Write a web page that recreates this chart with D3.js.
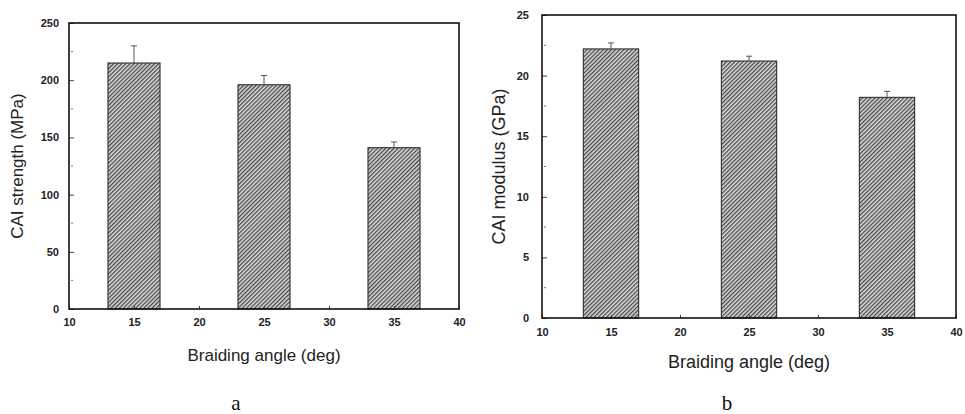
<!DOCTYPE html>
<html>
<head>
<meta charset="utf-8">
<script src="https://cdn.jsdelivr.net/npm/d3@7"></script>
<style>
    body { margin: 0; background: #fff; }
    svg { display: block; }
    .tick text { font-family: "Liberation Sans", Arial, sans-serif; font-weight: bold; fill: #222; }
    .title { font-family: "Liberation Sans", Arial, sans-serif; fill: #222; }
    .panelLabel { font-family: "Liberation Serif", "Times New Roman", serif; fill: #111; }
</style>
</head>
<body>
<div id="chart"></div>
<script>
// chart values
var angles = [15, 25, 35];
var xTicks = [10, 15, 20, 25, 30, 35, 40];

var strengthMean = [215, 196, 141];
var strengthErr = [15, 8, 5];
var strengthTicks = [0, 50, 100, 150, 200, 250];

var modulusMean = [22.2, 21.2, 18.2];
var modulusErr = [0.5, 0.4, 0.5];
var modulusTicks = [0, 5, 10, 15, 20, 25];

function init(){
    var w = 965;
    var h = 414;

    var svg = d3.select("#chart")
                .append("svg")
                .attr("width", w)
                .attr("height", h);

    //hatch pattern for the bars
    var pat = svg.append("defs").append("pattern")
        .attr("id", "hatch")
        .attr("patternUnits", "userSpaceOnUse")
        .attr("width", 2.9)
        .attr("height", 10)
        .attr("patternTransform", "rotate(45)");
    pat.append("rect")
        .attr("width", 2.9).attr("height", 10)
        .attr("fill", "#dedede");
    pat.append("rect")
        .attr("width", 1.3).attr("height", 10)
        .attr("fill", "#444");

    drawPanel(svg, {
        left: 69, right: 459, top: 23, bottom: 309,
        means: strengthMean, errs: strengthErr,
        yTicks: strengthTicks, yMax: 250,
        yTitle: "CAI strength (MPa)", yTitleX: 17,
        xTitleY: 361, tickSize: 11, titleSize: 17,
        labelGap: 5, xLabelY: 322,
        panel: "a", panelX: 236, panelY: 410
    });

    drawPanel(svg, {
        left: 542, right: 956, top: 15, bottom: 318,
        means: modulusMean, errs: modulusErr,
        yTicks: modulusTicks, yMax: 25,
        yTitle: "CAI modulus (GPa)", yTitleX: 499,
        xTitleY: 368, tickSize: 11, titleSize: 18,
        labelGap: 8, xLabelY: 332,
        panel: "b", panelX: 727, panelY: 410
    });
}

function drawPanel(svg, c){
    var xScale = d3.scaleLinear()
                .domain([10, 40])
                .range([c.left, c.right]);
    var yScale = d3.scaleLinear()
                .domain([0, c.yMax])
                .range([c.bottom, c.top]);

    var g = svg.append("g");

    //bars
    g.selectAll("rect.bar")
        .data(angles)
        .enter()
        .append("rect")
        .attr("class", "bar")
        .attr("x", function(d) { return xScale(d - 2); })
        .attr("width", function(d) { return xScale(d + 2) - xScale(d - 2); })
        .attr("y", function(d, i) { return yScale(c.means[i]); })
        .attr("height", function(d, i) { return yScale(0) - yScale(c.means[i]); })
        .attr("fill", "url(#hatch)")
        .attr("stroke", "#3a3a3a")
        .attr("stroke-width", 1.2);

    //error bars (upper only)
    g.selectAll("line.err")
        .data(angles)
        .enter()
        .append("line")
        .attr("x1", function(d) { return xScale(d); })
        .attr("x2", function(d) { return xScale(d); })
        .attr("y1", function(d, i) { return yScale(c.means[i]); })
        .attr("y2", function(d, i) { return yScale(c.means[i] + c.errs[i]); })
        .attr("stroke", "#555")
        .attr("stroke-width", 1);
    g.selectAll("line.cap")
        .data(angles)
        .enter()
        .append("line")
        .attr("x1", function(d) { return xScale(d) - 3; })
        .attr("x2", function(d) { return xScale(d) + 3; })
        .attr("y1", function(d, i) { return yScale(c.means[i] + c.errs[i]); })
        .attr("y2", function(d, i) { return yScale(c.means[i] + c.errs[i]); })
        .attr("stroke", "#555")
        .attr("stroke-width", 1);

    //axes with inward ticks
    var xAxis = d3.axisBottom(xScale)
        .tickValues(xTicks)
        .tickSize(-3)
        .tickPadding(c.xLabelY - c.bottom - 4);
    var yAxis = d3.axisLeft(yScale)
        .tickValues(c.yTicks)
        .tickSize(-5)
        .tickPadding(c.labelGap + 5);

    var gx = g.append("g")
        .attr("transform", "translate(0," + c.bottom + ")")
        .call(xAxis);
    var gy = g.append("g")
        .attr("transform", "translate(" + c.left + ",0)")
        .call(yAxis);
    [gx, gy].forEach(function(a){
        a.select(".domain").remove();
        a.selectAll(".tick line").attr("stroke", "#444");
        a.selectAll(".tick text").style("font-size", c.tickSize + "px");
    });

    //minor y ticks
    var minor = d3.range(1, c.yTicks.length).map(function(i){
        return (c.yTicks[i - 1] + c.yTicks[i]) / 2;
    });
    g.selectAll("line.minor")
        .data(minor)
        .enter()
        .append("line")
        .attr("x1", c.left + 2)
        .attr("x2", c.left + 4)
        .attr("y1", function(d) { return yScale(d); })
        .attr("y2", function(d) { return yScale(d); })
        .attr("stroke", "#777");

    //frame
    g.append("rect")
        .attr("x", c.left).attr("y", c.top)
        .attr("width", c.right - c.left)
        .attr("height", c.bottom - c.top)
        .attr("fill", "none")
        .attr("stroke", "#111")
        .attr("stroke-width", 1.6);

    //titles
    g.append("text")
        .attr("class", "title")
        .attr("x", (c.left + c.right) / 2)
        .attr("y", c.xTitleY)
        .attr("text-anchor", "middle")
        .style("font-size", c.titleSize + "px")
        .text("Braiding angle (deg)");
    g.append("text")
        .attr("class", "title")
        .attr("transform", "translate(" + (c.yTitleX + 6) + "," + ((c.top + c.bottom) / 2) + ") rotate(-90)")
        .attr("text-anchor", "middle")
        .style("font-size", c.titleSize + "px")
        .text(c.yTitle);

    g.append("text")
        .attr("class", "panelLabel")
        .attr("x", c.panelX)
        .attr("y", c.panelY)
        .attr("text-anchor", "middle")
        .style("font-size", "21px")
        .text(c.panel);
}
window.onload = init;
</script>
</body>
</html>
